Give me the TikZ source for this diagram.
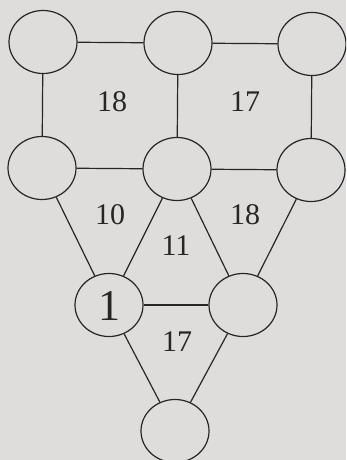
\documentclass[tikz,border=0pt]{standalone}
\usepackage{fontspec}
\setmainfont{Liberation Serif}
\definecolor{paper}{HTML}{DEDDDB}
\definecolor{ink}{HTML}{262626}
\tikzset{
  cell/.style={draw=ink, line width=1.2pt, ellipse, minimum width=68pt, minimum height=63pt, inner sep=0pt},
  link/.style={draw=ink, line width=1.2pt},
  num/.style={font=\fontsize{30}{30}\selectfont, text=ink},
  given/.style={font=\fontsize{44}{44}\selectfont, text=ink}
}
\usetikzlibrary{shapes.geometric}
\begin{document}
\begin{tikzpicture}[x=1pt,y=-1pt]
\fill[paper] (0,0) rectangle (346,460);
\clip (0,0) rectangle (346,460);
\node[cell] (tl) at (43,42) {};
\node[cell] (tm) at (178,43) {};
\node[cell] (tr) at (312,44) {};
\node[cell] (ml) at (42,168) {};
\node[cell] (mm) at (177,169) {};
\node[cell] (mr) at (311,170) {};
\node[cell] (one) at (109,305) {};
\node[given] at (109,306) {1};
\node[cell] (lr) at (243,305) {};
\node[cell] (bt) at (175,431) {};
\draw[link] (tl) -- (tm);
\draw[link] (tm) -- (tr);
\draw[link] (tl) -- (ml);
\draw[link] (tm) -- (mm);
\draw[link] (tr) -- (mr);
\draw[link] (ml) -- (mm);
\draw[link] (mm) -- (mr);
\draw[link] (ml) -- (one);
\draw[link] (mm) -- (one);
\draw[link] (mm) -- (lr);
\draw[link] (mr) -- (lr);
\draw[link] (one) -- (lr);
\draw[link] (one) -- (bt);
\draw[link] (lr) -- (bt);
\node[num] (a) at (112,102) {18};
\node[num] (b) at (245,102) {17};
\node[num] (c) at (110,215) {10};
\node[num] (d) at (245,215) {18};
\node[num] (e) at (176,246) {11};
\node[num] (f) at (177,342) {17};
\end{tikzpicture}
\end{document}
